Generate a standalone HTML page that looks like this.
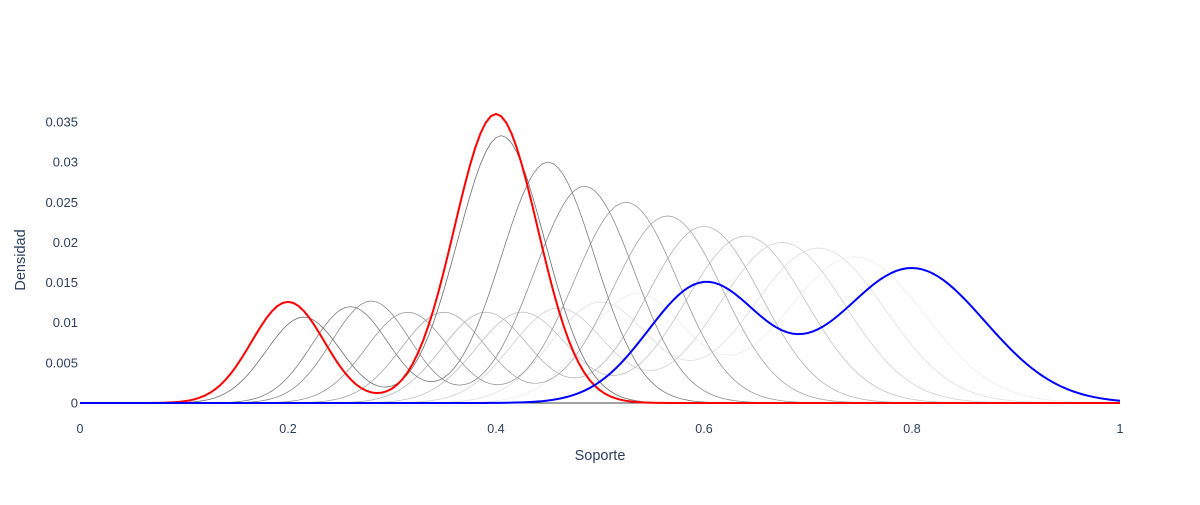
<!DOCTYPE html>
<html><head><meta charset="utf-8"><style>
body{margin:0;background:#fff;font-family:"Liberation Sans",sans-serif;}
svg text{font-family:"Liberation Sans",sans-serif;fill:#2a3f5f;}
</style></head><body>
<svg id="chart" width="1200" height="500" viewBox="0 0 1200 500"></svg>
<script>
// Series parameters: two-component mixtures
const seriesNames = ["red","g1","g2","g3","g4","g5","g6","g7","g8","g9","g10","blue"];
const mean1   = [0.200,0.215,0.260,0.280,0.315,0.350,0.390,0.425,0.460,0.500,0.535,0.600];
const height1 = [0.0126,0.0107,0.0120,0.0127,0.0113,0.0113,0.0113,0.0113,0.0118,0.0125,0.0135,0.0148];
const sigma1  = [0.035,0.036,0.037,0.038,0.040,0.041,0.042,0.044,0.045,0.047,0.048,0.054];
const mean2   = [0.400,0.405,0.450,0.485,0.525,0.565,0.600,0.640,0.675,0.710,0.745,0.800];
const height2 = [0.0360,0.0333,0.0300,0.0270,0.0250,0.0233,0.0220,0.0208,0.0200,0.0193,0.0182,0.0168];
const sigma2  = [0.040,0.042,0.045,0.048,0.050,0.053,0.055,0.058,0.061,0.064,0.067,0.070];
const xTicks = [0,0.2,0.4,0.6,0.8,1];
const xTickLabels = ["0","0.2","0.4","0.6","0.8","1"];
const yTicks = [0,0.005,0.01,0.015,0.02,0.025,0.03,0.035];
const yTickLabels = ["0","0.005","0.01","0.015","0.02","0.025","0.03","0.035"];

const NS="http://www.w3.org/2000/svg";
const svg=document.getElementById('chart');
const X0=80,X1=1120,Y0=403,Y35=122;
const xs=v=>X0+v*(X1-X0);
const ys=v=>Y0-v*(Y0-Y35)/0.035;
function mk(t,a){const e=document.createElementNS(NS,t);for(const k in a)e.setAttribute(k,a[k]);svg.appendChild(e);return e;}

xTicks.forEach((t,i)=>{
  const e=mk('text',{x:xs(t),y:433,'text-anchor':'middle','font-size':12.5});
  e.textContent=xTickLabels[i];
  
  
});
yTicks.forEach((t,i)=>{
  const e=mk('text',{x:78,y:ys(t)+4.5,'text-anchor':'end','font-size':13});
  e.textContent=yTickLabels[i];
  
  
});
const xt=mk('text',{x:600,y:460,'text-anchor':'middle','font-size':14.5});
xt.textContent='Soporte';


const yt=mk('text',{x:25,y:260,'text-anchor':'middle','font-size':14.5,transform:'rotate(-90 25 260)'});
yt.textContent='Densidad';



function curve(i){
  let d='';
  for(let k=0;k<=200;k++){
    const x=k/200;
    const v=height1[i]*Math.exp(-((x-mean1[i])**2)/(2*sigma1[i]**2))+height2[i]*Math.exp(-((x-mean2[i])**2)/(2*sigma2[i]**2));
    d+=(k?'L':'M')+xs(x).toFixed(2)+' '+ys(v).toFixed(2);
  }
  return d;
}
for(let i=10;i>=1;i--){
  const c=Math.round(110+(i-1)*14);
  const p=mk('path',{d:curve(i),fill:'none',stroke:`rgb(${c},${c},${c})`,'stroke-width':0.8});
  
  
}
const zl=mk('line',{x1:X0,x2:X1,y1:Y0,y2:Y0,stroke:'#444','stroke-width':1});


const rp=mk('path',{d:curve(0),fill:'none',stroke:'#ff0000','stroke-width':2});


const bp=mk('path',{d:curve(11),fill:'none',stroke:'#0000ff','stroke-width':2});


</script>
</body></html>
